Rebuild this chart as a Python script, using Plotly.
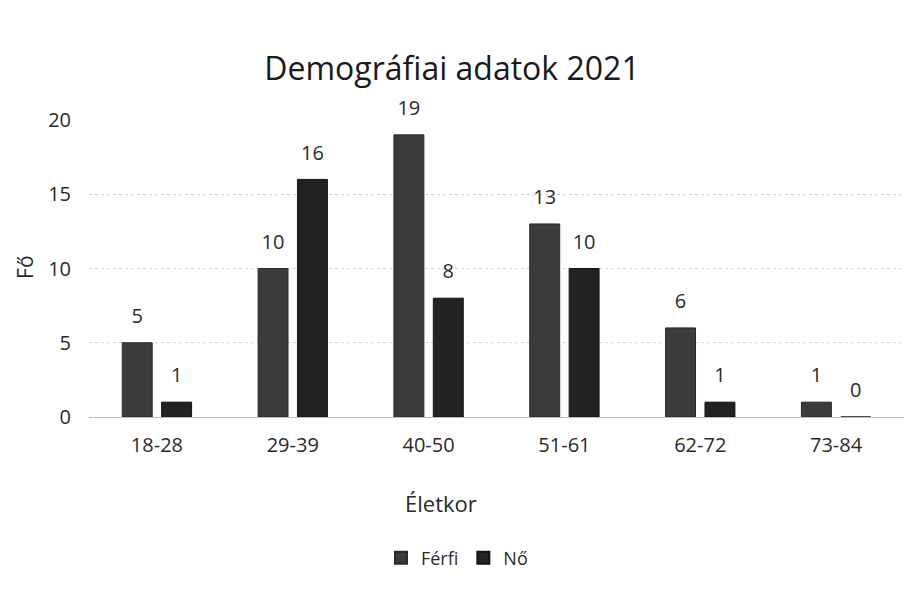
import plotly.graph_objects as go

categories = ["18-28", "29-39", "40-50", "51-61", "62-72", "73-84"]
ferfi = [5, 10, 19, 13, 6, 1]
no = [1, 16, 8, 10, 1, 0]
y_ticks = [0, 5, 10, 15, 20]

FONT = "'Open Sans', Lato, sans-serif"
TXT = "#2a2a2a"

fig = go.Figure()
fig.add_trace(go.Bar(name="Férfi", x=categories, y=ferfi, offsetgroup="f",
                     marker=dict(color="#3b3b3b", line=dict(color="#2a2a2a", width=1))))
fig.add_trace(go.Bar(name="Nő", x=categories, y=no, offsetgroup="n",
                     marker=dict(color="#222222", line=dict(color="#151515", width=1))))
# data labels, lifted above the bars
for name, vals in (("Férfi", ferfi), ("Nő", no)):
    fig.add_trace(go.Scatter(x=categories, y=vals, text=vals, mode="markers+text",
                             offsetgroup="f" if name == "Férfi" else "n",
                             textposition="top center", cliponaxis=False,
                             marker=dict(size=22, opacity=0), showlegend=False,
                             hoverinfo="skip",
                             textfont=dict(size=20, color=TXT)))

fig.update_layout(
    width=923, height=593,
    paper_bgcolor="white", plot_bgcolor="white",
    font=dict(family=FONT, size=20, color=TXT),
    title=dict(text="Demográfiai adatok 2021", x=0.481, xanchor="center",
               y=0.897, yanchor="middle", font=dict(size=32, color="#1a1a1a")),
    margin=dict(l=81, r=27, t=112, b=184, autoexpand=False),
    barmode="group", bargap=0.42, bargroupgap=0.24,
    scattermode="group", scattergap=0.42,
    legend=dict(orientation="h", x=0.4515, xanchor="center", y=-0.475, yanchor="middle",
                font=dict(size=18), itemwidth=30, itemsizing="constant",
                tracegroupgap=0),
    showlegend=True,
    annotations=[
        dict(text="Életkor", xref="paper", yref="paper", x=0.432, y=-0.2896,
             xanchor="center", yanchor="middle", showarrow=False,
             font=dict(size=22, color=TXT)),
        dict(text="Fő", xref="paper", yref="paper", x=-0.0785, y=0.502,
             xanchor="center", yanchor="middle", showarrow=False, textangle=-90,
             font=dict(size=21, color=TXT)),
    ],
)
fig.update_xaxes(showgrid=False, showline=False, ticks="", tickfont=dict(size=20),
                 ticklabelstandoff=14, automargin=False)
fig.update_yaxes(range=[0, 20], tickvals=y_ticks, showgrid=True,
                 gridcolor="#d3d3d3", griddash="dot", gridwidth=1,
                 zeroline=True, zerolinecolor="#bdbdbd", zerolinewidth=1,
                 tickfont=dict(size=20), ticks="", ticklabelstandoff=17,
                 automargin=False)

fig.write_html("out.html")
